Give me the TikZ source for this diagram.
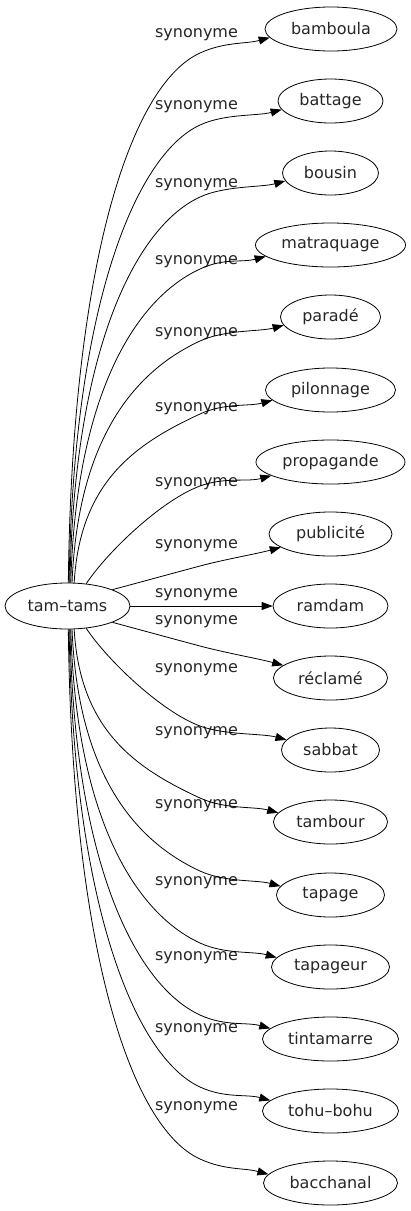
\documentclass[tikz,border=0pt]{standalone}
\usepackage{fontspec}
\setmainfont{DejaVu Sans}
\usetikzlibrary{shapes.geometric,arrows.meta}
\begin{document}
\begin{tikzpicture}[x=1pt,y=-1pt,
  every node/.style={font=\fontsize{16}{19}\selectfont, text=black!85},
  word/.style={draw=black, ellipse, inner sep=0pt, minimum height=44pt, line width=0.8pt},
  syn/.style={draw=black, line width=0.8pt, -{Triangle[length=11pt,width=8pt]}},
  lab/.style={inner sep=0pt}]
\useasboundingbox (0,0) rectangle (410,1211);
% nodes
\node[word, minimum width=125pt, minimum height=46pt] (tam) at (67.5,606) {tam–tams};
\node[word, minimum width=132pt] (n1) at (331,29) {bamboula};
\node[word, minimum width=105pt] (n2) at (330.5,101) {battage};
\node[word, minimum width=96pt] (n3) at (330.5,173) {bousin};
\node[word, minimum width=150pt] (n4) at (330.5,245) {matraquage};
\node[word, minimum width=100pt] (n5) at (330.5,317) {paradé};
\node[word, minimum width=130pt] (n6) at (330.5,390) {pilonnage};
\node[word, minimum width=149pt] (n7) at (330.5,462) {propagande};
\node[word, minimum width=123pt] (n8) at (330.5,534) {publicité};
\node[word, minimum width=115pt] (n9) at (330.5,606) {ramdam};
\node[word, minimum width=114pt] (n10) at (330.5,678) {réclamé};
\node[word, minimum width=98pt] (n11) at (330.5,750) {sabbat};
\node[word, minimum width=114pt] (n12) at (330.5,822) {tambour};
\node[word, minimum width=108pt] (n13) at (330.5,895) {tapage};
\node[word, minimum width=118pt] (n14) at (330.5,967) {tapageur};
\node[word, minimum width=136pt] (n15) at (330.5,1039) {tintamarre};
\node[word, minimum width=136pt] (n16) at (330.5,1111) {tohu–bohu};
\node[word, minimum width=134pt] (n17) at (330.5,1183) {bacchanal};
% labels
\node[lab] (l1) at (196.5,35) {synonyme};
\node[lab] (l2) at (196.5,107) {synonyme};
\node[lab] (l3) at (196.5,185) {synonyme};
\node[lab] (l4) at (196.5,262) {synonyme};
\node[lab] (l5) at (196.5,334) {synonyme};
\node[lab] (l6) at (196.5,409) {synonyme};
\node[lab] (l7) at (196.5,484) {synonyme};
\node[lab] (l8) at (196.5,546) {synonyme};
\node[lab] (l9) at (196.5,595) {synonyme};
\node[lab] (l10) at (196.5,622) {synonyme};
\node[lab] (l11) at (196.5,670) {synonyme};
\node[lab] (l12) at (196.5,733) {synonyme};
\node[lab] (l13) at (196.5,806) {synonyme};
\node[lab] (l14) at (196.5,883) {synonyme};
\node[lab] (l15) at (196.5,958) {synonyme};
\node[lab] (l16) at (196.5,1030) {synonyme};
\node[lab] (l17) at (196.5,1108) {synonyme};
% upper edges
\draw[syn] (tam.88) .. controls (72,265) and (130,85) .. (200,53) .. controls +(25,-11.4) and +(-24,6.5) .. (n1.188);
\draw[syn] (tam.86) .. controls (73,308) and (135,155) .. (200,125) .. controls +(25,-11.5) and +(-24,6.5) .. (n2.190);
\draw[syn] (tam.84) .. controls (74,351) and (135,227) .. (200,197) .. controls +(25,-11.5) and +(-24,6.5) .. (n3.190);
\draw[syn] (tam.82) .. controls (76,395) and (135,299) .. (200,269) .. controls +(25,-11.5) and +(-24,6.5) .. (n4.190);
\draw[syn] (tam.79) .. controls (78,438) and (135,371) .. (200,341) .. controls +(25,-11.5) and +(-24,6.5) .. (n5.190);
\draw[syn] (tam.74) .. controls (80,482) and (135,444) .. (200,414) .. controls +(25,-11.5) and +(-24,6.5) .. (n6.190);
\draw[syn] (tam.50) .. controls (108,551) and (162,500) .. (200,486) .. controls +(25,-9.2) and +(-24,6.5) .. (n7.193);
\draw[syn] (tam.20) .. controls (141,582) and (170,574) .. (200,566) .. controls +(25,-6.7) and +(-24,6.5) .. (n8.195);
% middle edge
\draw[syn] (tam.east) -- (n9.west);
% lower edges
\draw[syn] (tam.-20) .. controls (141,630) and (170,638) .. (200,646) .. controls +(25,6.7) and +(-24,-6.5) .. (n10.165);
\draw[syn] (tam.-50) .. controls (108,661) and (162,712) .. (200,726) .. controls +(25,9.2) and +(-24,-6.5) .. (n11.167);
\draw[syn] (tam.-74) .. controls (80,730) and (135,768) .. (200,798) .. controls +(25,11.5) and +(-24,-6.5) .. (n12.170);
\draw[syn] (tam.-79) .. controls (78,774) and (135,841) .. (200,871) .. controls +(25,11.5) and +(-24,-6.5) .. (n13.170);
\draw[syn] (tam.-82) .. controls (76,817) and (135,913) .. (200,943) .. controls +(25,11.5) and +(-24,-6.5) .. (n14.170);
\draw[syn] (tam.-84) .. controls (74,861) and (135,985) .. (200,1015) .. controls +(25,11.5) and +(-24,-6.5) .. (n15.170);
\draw[syn] (tam.-86) .. controls (73,904) and (135,1057) .. (200,1087) .. controls +(25,11.5) and +(-24,-6.5) .. (n16.170);
\draw[syn] (tam.-88) .. controls (72,947) and (130,1127) .. (200,1159) .. controls +(25,11.4) and +(-24,-6.5) .. (n17.172);
\end{tikzpicture}
\end{document}
